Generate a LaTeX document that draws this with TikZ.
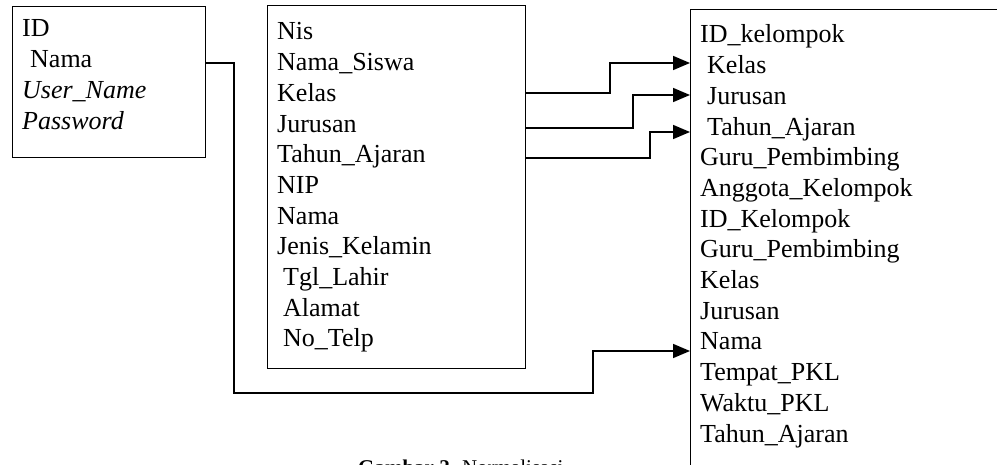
\documentclass[tikz,border=0pt]{standalone}
\usepackage{fontspec}
\setmainfont{Liberation Serif}
\usetikzlibrary{arrows.meta}
\begin{document}
\begin{tikzpicture}[x=1pt,y=-1pt,
  tbl/.style={draw=black, line width=1.4pt, rectangle, inner sep=0pt, anchor=north west},
  fld/.style={anchor=base west, inner sep=0pt, font=\fontsize{26}{30.7}\selectfont},
  link/.style={draw=black, line width=1.6pt},
  arr/.style={link, -{Triangle[length=17pt,width=14pt]}}]
\useasboundingbox (0,0) rectangle (997,465);
% boxes
\node[tbl, minimum width=193pt, minimum height=151pt] (b1) at (12,6) {};
\node[tbl, minimum width=258pt, minimum height=363pt] (b2) at (267,5) {};
\node[tbl, minimum width=330pt, minimum height=480pt] (b3) at (690,9) {};
% box 1 fields
\node[fld] (u1) at (22,37) {ID};
\node[fld] (u2) at (30,67.7) {Nama};
\node[fld] (u3) at (22,98.4) {\itshape User\_Name};
\node[fld] (u4) at (22,129.1) {\itshape Password};
% box 2 fields
\node[fld] (s1) at (277,40) {Nis};
\node[fld] (s2) at (277,70.7) {Nama\_Siswa};
\node[fld] (s3) at (277,101.4) {Kelas};
\node[fld] (s4) at (277,132.1) {Jurusan};
\node[fld] (s5) at (277,162.8) {Tahun\_Ajaran};
\node[fld] (s6) at (277,193.5) {NIP};
\node[fld] (s7) at (277,224.2) {Nama};
\node[fld] (s8) at (277,254.9) {Jenis\_Kelamin};
\node[fld] (s9) at (283,285.6) {Tgl\_Lahir};
\node[fld] (s10) at (283,316.3) {Alamat};
\node[fld] (s11) at (283,347) {No\_Telp};
% box 3 fields
\node[fld] (k1) at (700,43) {ID\_kelompok};
\node[fld] (k2) at (707,73.7) {Kelas};
\node[fld] (k3) at (707,104.4) {Jurusan};
\node[fld] (k4) at (707,135.1) {Tahun\_Ajaran};
\node[fld] (k5) at (700,165.8) {Guru\_Pembimbing};
\node[fld] (k6) at (700,196.5) {Anggota\_Kelompok};
\node[fld] (k7) at (700,227.2) {ID\_Kelompok};
\node[fld] (k8) at (700,257.9) {Guru\_Pembimbing};
\node[fld] (k9) at (700,288.6) {Kelas};
\node[fld] (k10) at (700,319.3) {Jurusan};
\node[fld] (k11) at (700,350) {Nama};
\node[fld] (k12) at (700,380.7) {Tempat\_PKL};
\node[fld] (k13) at (700,411.4) {Waktu\_PKL};
\node[fld] (k14) at (700,442.1) {Tahun\_Ajaran};
% connectors
\draw[arr] (b2.east |- 0,93) -- (610,93) -- (610,63) -- (b3.west |- 0,63);
\draw[arr] (b2.east |- 0,128) -- (633,128) -- (633,95) -- (b3.west |- 0,95);
\draw[arr] (b2.east |- 0,158) -- (650,158) -- (650,132) -- (b3.west |- 0,132);
\draw[arr] (b1.east |- 0,63) -- (234,63) -- (234,393) -- (593,393) -- (593,351) -- (b3.west |- 0,351);
% caption (cut off by page edge, as in the reference)
\node[anchor=base west, inner sep=0pt, font=\fontsize{21}{25}\selectfont] (cap) at (358,474) {\textbf{Gambar 2.} Normalisasi};
\end{tikzpicture}
\end{document}
